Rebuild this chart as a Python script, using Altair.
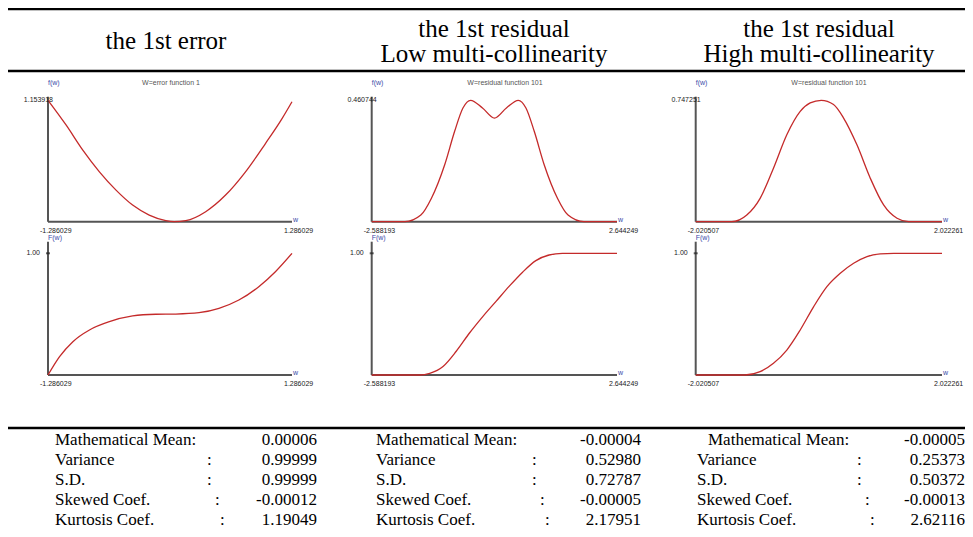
import altair as alt
import pandas as pd

OFF = 8  # page margin: chart coordinates = page coordinates - 8

# ---------------- data ----------------
# column 1 : the 1st error
err_pdf_w = [-1.286029, -1.094, -0.919, -0.744, -0.569, -0.394, -0.219, -0.044, 0.044, 0.166, 0.376, 0.586, 0.796, 1.006, 1.181, 1.286029]
err_pdf_f = [1.153918, 0.917, 0.680, 0.474, 0.300, 0.158, 0.063, 0.010, 0.000, 0.010, 0.095, 0.253, 0.474, 0.743, 0.980, 1.140]
err_cdf_w = [-1.286029, -1.164, -1.024, -0.849, -0.639, -0.394, -0.149, 0.061, 0.306, 0.516, 0.726, 0.936, 1.111, 1.286029]
err_cdf_F = [0.0, 0.151, 0.274, 0.370, 0.438, 0.485, 0.499, 0.501, 0.512, 0.548, 0.616, 0.726, 0.849, 1.0]

# column 2 : residual, low multi-collinearity
low_pdf_w = [-2.588193, -1.879, -1.540, -1.314, -1.031, -0.819, -0.642, -0.479, -0.225, 0.030, 0.285, 0.539, 0.702, 0.879, 1.091, 1.374, 1.600, 1.939, 2.644249]
low_pdf_f = [0.0, 0.0, 0.025, 0.089, 0.216, 0.343, 0.4315, 0.460744, 0.4315, 0.393, 0.4315, 0.460744, 0.4315, 0.343, 0.216, 0.089, 0.025, 0.0, 0.0]
low_cdf_w = [-2.588193, -1.563, -1.350, -1.067, -0.785, -0.502, -0.219, 0.064, 0.347, 0.630, 0.913, 1.196, 1.478, 2.644249]
low_cdf_F = [0.0, 0.0, 0.014, 0.070, 0.195, 0.345, 0.480, 0.605, 0.730, 0.845, 0.940, 0.986, 1.0, 1.0]

# column 3 : residual, high multi-collinearity
high_pdf_w = [-2.020507, -1.429, -1.182, -0.963, -0.744, -0.525, -0.305, -0.141, 0.040, 0.242, 0.407, 0.626, 0.845, 1.064, 1.284, 1.475, 2.022261]
high_pdf_f = [0.0, 0.0, 0.041, 0.144, 0.329, 0.535, 0.679, 0.731, 0.747251, 0.721, 0.638, 0.473, 0.268, 0.103, 0.021, 0.0, 0.0]
high_cdf_w = [-2.020507, -1.2095, -0.963, -0.744, -0.525, -0.305, -0.086, 0.133, 0.352, 0.572, 0.791, 1.010, 1.229, 2.022261]
high_cdf_F = [0.0, 0.0, 0.027, 0.096, 0.205, 0.370, 0.560, 0.726, 0.836, 0.918, 0.973, 0.995, 1.0, 1.0]

# axis end labels
x_lo = [-1.286029, -2.588193, -2.020507]
x_hi = [1.286029, 2.644249, 2.022261]
x_lo_lab = ["-1.286029", "-2.588193", "-2.020507"]
x_hi_lab = ["1.286029", "2.644249", "2.022261"]
pdf_max = [1.153918, 0.460744, 0.747251]
pdf_max_lab = ["1.153918", "0.460744", "0.747251"]
pdf_titles = ["W=error function 1", "W=residual function 101", "W=residual function 101"]

headers = [["the 1st error"], ["the 1st residual", "Low multi-collinearity"], ["the 1st residual", "High multi-collinearity"]]

stat_names = ["Mathematical Mean:", "Variance", "S.D.", "Skewed Coef.", "Kurtosis Coef."]
stat_values = [
    ["0.00006", "0.99999", "0.99999", "-0.00012", "1.19049"],
    ["-0.00004", "0.52980", "0.72787", "-0.00005", "2.17951"],
    ["-0.00005", "0.25373", "0.50372", "-0.00013", "2.62116"],
]

# ---------------- styling / layout ----------------
RED = "#c42a2a"
AXC = "#555555"
BLUE = "#3a4aa8"
SANS = "Liberation Sans"
SERIF = "Liberation Serif"

col_px0 = [48, 371.7, 695.7]
col_px1 = [292, 617, 942]
title_cx = [171, 505, 829]
header_cx = [166, 494, 819]

TOP = dict(py0=221.7, py1=100.3, axis_top=96.7)
BOT = dict(py0=375.0, py1=253.3, axis_top=241.7)

layers = []


def V(v):
    return alt.value(v - OFF)


def panel(c, kind, w, vals):
    g = TOP if kind == "pdf" else BOT
    ymax = pdf_max[c] if kind == "pdf" else 1.0
    xs = alt.Scale(domain=[x_lo[c], x_hi[c]], range=[col_px0[c] - OFF, col_px1[c] - OFF], nice=False, zero=False)
    ys = alt.Scale(domain=[0, ymax], range=[g["py0"] - OFF, g["py1"] - OFF], nice=False, zero=False)
    X = lambda f="w": alt.X(f"{f}:Q", scale=xs, axis=None)
    Y = lambda f="v": alt.Y(f"{f}:Q", scale=ys, axis=None)
    out = []
    # axes lines
    out.append(alt.Chart(pd.DataFrame({"w": [x_lo[c]], "w2": [x_hi[c]], "v": [0]}))
               .mark_rule(color=AXC, strokeWidth=2)
               .encode(x=X(), x2="w2:Q", y=Y()))
    out.append(alt.Chart(pd.DataFrame({"w": [x_lo[c]]}))
               .mark_rule(color=AXC, strokeWidth=2)
               .encode(x=X(), y=V(g["axis_top"]), y2=V(g["py0"])))
    # curve
    out.append(alt.Chart(pd.DataFrame({"w": w, "v": vals}))
               .mark_line(color=RED, strokeWidth=1.3, interpolate="monotone")
               .encode(x=X(), y=Y()))
    # x end labels
    out.append(alt.Chart(pd.DataFrame({"w": [x_lo[c], x_hi[c]], "v": [0, 0], "t": [x_lo_lab[c], x_hi_lab[c]]}))
               .mark_text(font=SANS, fontSize=7, color="#222", align="left", baseline="middle", dx=-8, dy=9)
               .encode(x=X(), y=Y(), text="t:N"))
    if kind == "pdf":
        out.append(alt.Chart(pd.DataFrame({"w": [x_lo[c]], "v": [ymax], "t": [pdf_max_lab[c]]}))
                   .mark_text(font=SANS, fontSize=7, color="#222", align="right", baseline="middle", dx=5)
                   .encode(x=X(), y=Y(), text="t:N"))
        out.append(alt.Chart(pd.DataFrame({"t": [pdf_titles[c]]}))
                   .mark_text(font=SANS, fontSize=7, color="#555", align="center", baseline="middle")
                   .encode(x=V(title_cx[c]), y=V(83), text="t:N"))
        ylab = "f(w)"
        ylab_y = 83
    else:
        out.append(alt.Chart(pd.DataFrame({"w": [x_lo[c]], "v": [1.0], "t": ["1.00"]}))
                   .mark_text(font=SANS, fontSize=7, color="#222", align="right", baseline="middle", dx=-8)
                   .encode(x=X(), y=Y(), text="t:N"))
        out.append(alt.Chart(pd.DataFrame({"w": [x_lo[c]], "v": [1.0]}))
                   .mark_tick(color="#222", orient="horizontal", size=4, thickness=2)
                   .encode(x=X(), y=Y()))
        ylab = "F(w)"
        ylab_y = 238
    out.append(alt.Chart(pd.DataFrame({"t": [ylab]}))
               .mark_text(font=SANS, fontSize=7, color=BLUE, align="left", baseline="middle")
               .encode(x=V(col_px0[c]), y=V(ylab_y), text="t:N"))
    out.append(alt.Chart(pd.DataFrame({"t": ["w"]}))
               .mark_text(font=SANS, fontSize=7, color=BLUE, align="left", baseline="bottom")
               .encode(x=V(col_px1[c] + 1), y=V(g["py0"] + 1), text="t:N"))
    return out


curves = [
    (0, "pdf", err_pdf_w, err_pdf_f), (0, "cdf", err_cdf_w, err_cdf_F),
    (1, "pdf", low_pdf_w, low_pdf_f), (1, "cdf", low_cdf_w, low_cdf_F),
    (2, "pdf", high_pdf_w, high_pdf_f), (2, "cdf", high_cdf_w, high_cdf_F),
]
for c, kind, w, v in curves:
    layers += panel(c, kind, w, v)

# ---------------- table rules and headers ----------------
dummy = pd.DataFrame({"a": [0]})
for yy in [9, 71, 428]:
    layers.append(alt.Chart(dummy).mark_rule(color="black", strokeWidth=2.5)
                  .encode(x=alt.value(0), x2=alt.value(960), y=V(yy)))

for c, lines in enumerate(headers):
    ys_ = [49] if len(lines) == 1 else [37, 62]
    for t, yy in zip(lines, ys_):
        layers.append(alt.Chart(pd.DataFrame({"t": [t]}))
                      .mark_text(font=SERIF, fontSize=25, color="black", align="center", baseline="alphabetic")
                      .encode(x=V(header_cx[c]), y=V(yy), text="t:N"))

# ---------------- statistics ----------------
rows = []
for c in range(3):
    for r, name in enumerate(stat_names):
        rows.append({"col": c, "row": r, "label": name, "value": stat_values[c][r]})
stats = pd.DataFrame(rows)

FS = 17
row_scale = alt.Scale(domain=[0, 4], range=[439.5 - OFF, 519.5 - OFF], nice=False, zero=False)
SY = alt.Y("row:Q", scale=row_scale, axis=None)


def colx(a, b):
    return alt.X("col:Q", scale=alt.Scale(domain=[0, 2], range=[a - OFF, b - OFF], nice=False, zero=False), axis=None)


layers.append(alt.Chart(stats).transform_filter("!(datum.col == 2 && datum.row == 0)")
              .mark_text(font=SERIF, fontSize=FS, color="black", align="left", baseline="middle")
              .encode(x=colx(55, 697), y=SY, text="label:N"))
layers.append(alt.Chart(stats).transform_filter("datum.col == 2 && datum.row == 0")
              .mark_text(font=SERIF, fontSize=FS, color="black", align="left", baseline="middle", dx=11)
              .encode(x=colx(55, 697), y=SY, text="label:N"))
layers.append(alt.Chart(stats).mark_text(font=SERIF, fontSize=FS, color="black", align="right", baseline="middle")
              .encode(x=colx(317, 965), y=SY, text="value:N"))
colon_pos = {1: (207, 857), 2: (207, 857), 3: (215, 865), 4: (220, 870)}
for r, (a, b) in colon_pos.items():
    layers.append(alt.Chart(stats).transform_filter(alt.datum.row == r)
                  .mark_text(font=SERIF, fontSize=FS, color="black", align="left", baseline="middle", text=":")
                  .encode(x=colx(a, b), y=SY))

chart = (alt.layer(*layers)
         .resolve_scale(x="independent", y="independent")
         .properties(width=957, height=521, autosize=alt.AutoSizeParams(type="none"), padding=0)
         .configure_view(stroke=None))

chart.save("out.html", embed_options={"renderer": "svg", "actions": False})
